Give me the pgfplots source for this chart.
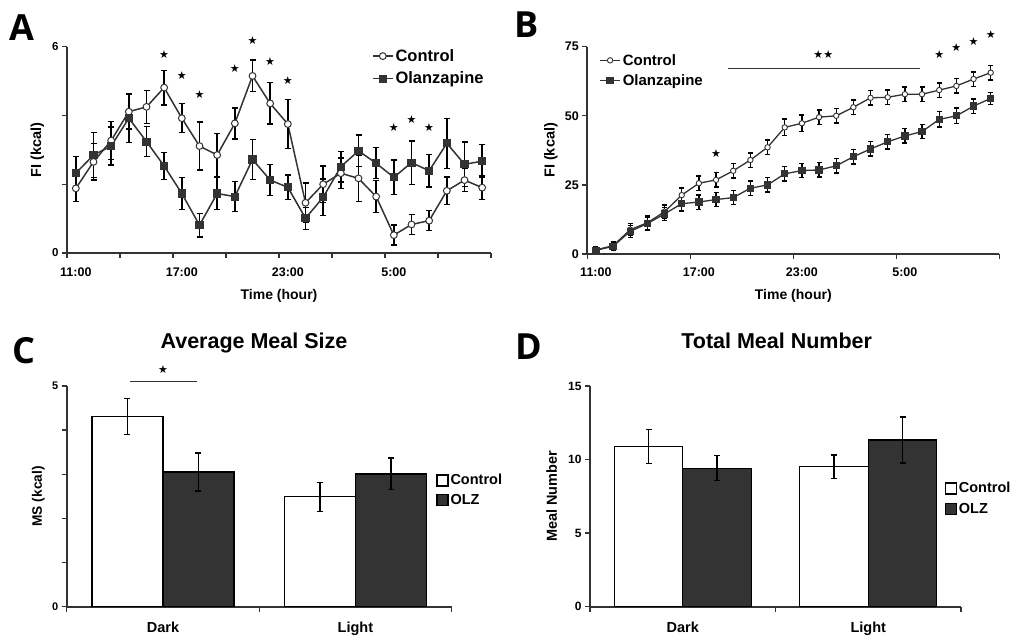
\documentclass[border=0pt]{standalone}
\usepackage{pgfplots}
\pgfplotsset{compat=1.18}
\usepackage{pgfplotstable}
\usepackage{fontspec}
\setmainfont{Liberation Sans}
\newfontfamily\letterfont{Open Sans}
\newfontfamily\symfont{DejaVu Sans}
\definecolor{ln}{HTML}{333333}
\definecolor{barc}{HTML}{333333}
\newcommand{\fs}[1]{\fontsize{#1}{#1}\selectfont\bfseries}

\pgfplotstableread{
i c ce o oe
0 1.88 0.39 2.32 0.48
1 2.65 0.53 2.85 0.65
2 3.27 0.55 3.11 0.55
3 4.11 0.50 3.92 0.70
4 4.25 0.48 3.24 0.44
5 4.81 0.50 2.53 0.40
6 3.92 0.42 1.73 0.46
7 3.11 0.70 0.81 0.34
8 2.85 0.63 1.73 0.47
9 3.77 0.45 1.64 0.44
10 5.15 0.46 2.72 0.58
11 4.35 0.60 2.12 0.45
12 3.75 0.71 1.91 0.36
13 1.46 0.58 1.01 0.32
14 2.00 0.53 1.62 0.53
15 2.32 0.44 2.51 0.44
16 2.17 0.68 2.97 0.46
17 1.64 0.47 2.61 0.45
18 0.52 0.29 2.20 0.50
19 0.83 0.29 2.63 0.63
20 0.94 0.29 2.39 0.47
21 1.81 0.40 3.19 0.73
22 2.12 0.34 2.58 0.65
23 1.90 0.34 2.67 0.48
}\tabA

\pgfplotstableread{
i c ce o oe
0 1.5 1.2 1.3 1.2
1 3.0 1.3 2.8 1.3
2 8.8 2.2 8.2 2.2
3 11.3 2.4 11.0 2.4
4 15.3 2.4 14.5 2.4
5 21.3 2.6 18.2 2.6
6 25.6 2.6 18.8 2.6
7 26.8 2.6 19.7 2.6
8 30.1 2.6 20.4 2.6
9 34.0 2.6 23.8 2.6
10 38.6 2.6 25.0 2.6
11 45.8 3.0 29.0 2.6
12 47.3 3.0 30.2 2.6
13 49.5 2.6 30.4 2.6
14 50.0 2.6 31.9 2.6
15 53.1 2.6 35.2 2.6
16 56.5 2.6 38.0 2.6
17 56.7 2.6 40.6 2.6
18 57.8 2.6 42.7 2.6
19 57.8 2.6 44.3 2.6
20 59.3 2.6 48.7 2.8
21 60.8 2.6 50.0 2.8
22 63.3 2.6 53.5 2.6
23 65.6 2.6 56.3 2.2
}\tabB

\pgfplotsset{
  base/.style={
    scale only axis, anchor=south west,
    axis lines=left,
    every non boxed x axis/.append style={x axis line style={-}},
    every non boxed y axis/.append style={y axis line style={-}},
    axis line style={-, line width=1.7pt, draw=ln},
    tick align=outside, major tick length=5pt, minor tick length=5pt,
    every tick/.style={line width=1.4pt, draw=ln},
    /pgf/number format/assume math mode=true,
    clip=false,
    legend cell align=left,
    xticklabels={},
    extra x tick style={major tick length=0pt},
  },
  ebars/.style={error bars/.cd, y dir=both, y explicit,
    error bar style={line width=1.4pt, black},
    error mark options={rotate=90, mark size=#1, line width=1.4pt, black}},
  linelegend/.style={legend image code/.code={
    \draw[mark repeat=2,mark phase=2,##1] plot coordinates {(0pt,0pt) (10pt,0pt) (20pt,0pt)};}},
  barlegend/.style={legend image code/.code={
    \draw[##1] (0pt,-5.5pt) rectangle (11pt,5.5pt);}},
}

\newcommand{\st}[2]{\node[font=\symfont\fontsize{11}{11}\selectfont, inner sep=0pt] at (axis cs:#1,#2) {★};}

\begin{document}
\begin{tikzpicture}
\useasboundingbox (0,0) rectangle (1012pt,637pt);

% ---------------- Panel A
\begin{axis}[base, at={(67pt,384pt)}, width=424pt, height=206.3pt,
  xmin=-0.5, xmax=23.5, ymin=0, ymax=6,
  xtick={-0.5,2.5,...,23.5},
  extra x ticks={0,6,12,18}, extra x tick labels={11:00,17:00,23:00,5:00},
  ytick={0,6}, minor ytick={2,4},
  xticklabel style={font=\fs{12.5}, yshift=-11pt},
  yticklabel style={font=\fs{11.5}},
  xlabel={Time (hour)}, ylabel={FI (kcal)},
  every axis x label/.style={at={(axis description cs:0.5,-0.208)}, anchor=center, font=\fs{14}},
  every axis y label/.style={at={(axis description cs:-0.0696,0.5)}, anchor=center, rotate=90, font=\fs{14.5}},
  linelegend,
  legend style={at={(0.719,0.90)}, anchor=west, draw=none, fill=none, font=\fs{16.5}, row sep=5pt, inner sep=0pt},
]
\addplot[ln, line width=1.5pt, mark=*, mark size=3.4pt, mark options={fill=white, draw=ln, line width=1pt}, ebars=3pt]
  table[x=i, y=c, y error=ce]{\tabA};
\addlegendentry{Control}
\addplot[ln, line width=1.5pt, mark=square*, mark size=3.3pt, mark options={fill=ln, draw=ln}, ebars=3pt]
  table[x=i, y=o, y error=oe]{\tabA};
\addlegendentry{Olanzapine}
\st{5}{5.78}\st{6}{5.17}\st{7}{4.61}\st{9}{5.37}\st{10}{6.17}
\st{11}{5.58}\st{12}{5.03}\st{18}{3.65}\st{19}{3.87}\st{20}{3.65}
\end{axis}

% ---------------- Panel B
\begin{axis}[base, at={(587.3pt,383pt)}, width=412pt, height=207.3pt,
  xmin=-0.5, xmax=23.5, ymin=0, ymax=75,
  xtick={-0.5,5.5,...,23.5},
  extra x ticks={0,6,12,18}, extra x tick labels={11:00,17:00,23:00,5:00},
  ytick={0,25,50,75},
  xticklabel style={font=\fs{12.5}, yshift=-10pt},
  yticklabel style={font=\fs{12.5}},
  xlabel={Time (hour)}, ylabel={FI (kcal)},
  every axis x label/.style={at={(axis description cs:0.5,-0.2026)}, anchor=center, font=\fs{14}},
  every axis y label/.style={at={(axis description cs:-0.0886,0.5)}, anchor=center, rotate=90, font=\fs{14.5}},
  linelegend,
  legend style={at={(0.029,0.885)}, anchor=west, draw=none, fill=none, font=\fs{15}, row sep=4pt, inner sep=0pt},
]
\addplot[ln, line width=1.3pt, mark=*, mark size=2.7pt, mark options={fill=white, draw=ln, line width=0.9pt}, ebars=2.5pt]
  table[x=i, y=c, y error=ce]{\tabB};
\addlegendentry{Control}
\addplot[ln, line width=1.3pt, mark=square*, mark size=3pt, mark options={fill=ln, draw=ln}, ebars=2.5pt]
  table[x=i, y=o, y error=oe]{\tabB};
\addlegendentry{Olanzapine}
\st{7}{36.4}\st{20}{72.3}\st{21}{74.6}\st{22}{77}\st{23}{79.5}
\node[font=\symfont\fontsize{11}{11}\selectfont, inner sep=0pt] at (axis cs:13.25,72.3) {★★};
\draw[line width=1.4pt, ln] (axis cs:7.71,67.2) -- (axis cs:18.88,67.2);
\end{axis}

% ---------------- Panel C
\begin{axis}[base, at={(66.7pt,30.3pt)}, width=385pt, height=220.7pt,
  xmin=-0.5, xmax=1.5, ymin=0, ymax=5,
  ybar=0pt, bar width=71pt,
  xtick={-0.5,0.5,1.5},
  extra x ticks={0,1}, extra x tick labels={Dark,Light},
  ytick={0,5}, minor ytick={1,2,3,4},
  xticklabel style={font=\fs{14.5}, yshift=-12pt},
  yticklabel style={font=\fs{11}},
  ylabel={MS (kcal)},
  every axis y label/.style={at={(axis description cs:-0.0738,0.5)}, anchor=center, rotate=90, font=\fs{13.7}},
  barlegend,
  legend style={at={(0.959,0.528)}, anchor=west, draw=none, fill=none, font=\fs{14.5}, row sep=4pt, inner sep=0pt},
]
\addplot[fill=white, draw=black, line width=1.4pt, ebars=3pt] coordinates {(0,4.31) +- (0,0.41) (1,2.49) +- (0,0.33)};
\addlegendentry{Control}
\addplot[fill=barc, draw=black, line width=1.4pt, ebars=3pt] coordinates {(0,3.05) +- (0,0.43) (1,3.01) +- (0,0.36)};
\addlegendentry{OLZ}
\draw[line width=1.4pt, ln] (axis cs:-0.171,5.1) -- (axis cs:0.176,5.1);
\st{0}{5.38}
\end{axis}

% ---------------- Panel D
\begin{axis}[base, at={(590pt,30.3pt)}, width=371pt, height=220.7pt,
  xmin=-0.5, xmax=1.5, ymin=0, ymax=15,
  ybar=0pt, bar width=68.5pt,
  xtick={-0.5,0.5,1.5},
  extra x ticks={0,1}, extra x tick labels={Dark,Light},
  ytick={0,5,10,15},
  xticklabel style={font=\fs{14.5}, yshift=-12pt},
  yticklabel style={font=\fs{12}},
  ylabel={Meal Number},
  every axis y label/.style={at={(axis description cs:-0.103,0.5)}, anchor=center, rotate=90, font=\fs{14.5}},
  barlegend,
  legend style={at={(0.955,0.49)}, anchor=west, draw=none, fill=none, font=\fs{14.5}, row sep=4.5pt, inner sep=0pt},
]
\addplot[fill=white, draw=black, line width=1.4pt, ebars=3pt] coordinates {(0,10.88) +- (0,1.15) (1,9.52) +- (0,0.8)};
\addlegendentry{Control}
\addplot[fill=barc, draw=black, line width=1.4pt, ebars=3pt] coordinates {(0,9.41) +- (0,0.85) (1,11.33) +- (0,1.55)};
\addlegendentry{OLZ}
\end{axis}

% ---------------- Titles and panel letters
\node[font=\fs{21.5}, anchor=base] at (254pt,288.7pt) {Average Meal Size};
\node[font=\fs{21.5}, anchor=base] at (776.7pt,288.5pt) {Total Meal Number};
\node[font={\letterfont\fontsize{36}{36}\selectfont\bfseries}, anchor=base] at (21.5pt,596pt) {A};
\node[font={\letterfont\fontsize{36}{36}\selectfont\bfseries}, anchor=base] at (526.7pt,599pt) {B};
\node[font={\letterfont\fontsize{36}{36}\selectfont\bfseries}, anchor=base] at (23.8pt,273.7pt) {C};
\node[font={\letterfont\fontsize{36}{36}\selectfont\bfseries}, anchor=base] at (528.8pt,277pt) {D};
\end{tikzpicture}
\end{document}
